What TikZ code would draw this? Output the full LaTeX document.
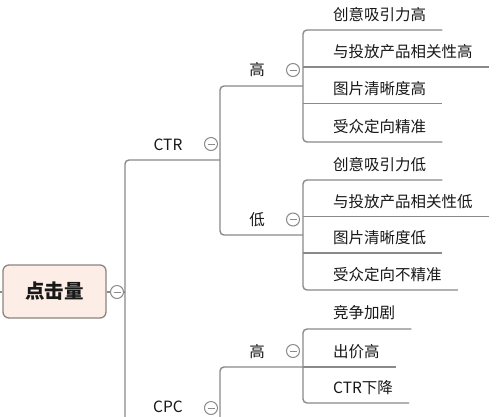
\documentclass[tikz,border=0pt]{standalone}
\usepackage{fontspec}
\newfontfamily\cjk{Noto Sans CJK SC}
\definecolor{lc}{HTML}{8A8A8A}
\definecolor{cc}{HTML}{8A8A8A}
\definecolor{tc}{HTML}{181818}
\definecolor{rootfill}{HTML}{FCEEE6}
\definecolor{rootdraw}{HTML}{8C8580}
\tikzset{
  conn/.style={draw=lc, line width=1.4pt, rounded corners=4pt},
  leaf/.style={font=\cjk\fontsize{15.5}{15.5}\selectfont, text=tc, inner sep=0pt, anchor=west},
  midlabel/.style={font=\cjk\fontsize{15.5}{15.5}\selectfont, text=tc, inner sep=0pt, anchor=center},
  rootbox/.style={draw=rootdraw, fill=rootfill, line width=1.3pt, rounded corners=6pt,
    minimum width=103pt, minimum height=53pt, inner sep=0pt,
    font=\cjk\bfseries\fontsize{19.5}{19.5}\selectfont, text=tc},
  tog/.style={circle, draw=cc, fill=white, line width=1pt, minimum size=13pt, inner sep=0pt,
    path picture={\draw[cc, line width=1pt]
      ([xshift=-3.5pt]path picture bounding box.center) -- ([xshift=3.5pt]path picture bounding box.center);}}
}
\begin{document}
\begin{tikzpicture}[x=1pt,y=-1pt]
\useasboundingbox (0,0) rectangle (500,416);
\clip (0,0) rectangle (500,416);
\fill[white] (0,0) rectangle (500,416);

% ---------- root ----------
\coordinate (inL) at (0,292);
\node[rootbox] (root) at (54.5,291.5) {点击量};
\draw[conn] (inL) -- (root.west |- inL);

% trunk coordinates
\coordinate (trTop) at (125,160);
\coordinate (trBot) at (125,422);
\coordinate (ctrEnd) at (220,160);
\coordinate (cpcEnd) at (220,422);
\node[tog] (rootT) at (117,292) {};
\draw[conn] (root.east |- rootT) -- (rootT.west);
\draw[conn] (rootT.east) -- (trTop |- rootT);
\draw[conn] (ctrEnd) -- (trTop) -- (trBot) -- (cpcEnd);

% ---------- CTR ----------
\node[midlabel] (ctr) at (168,145) {CTR};
\node[tog] (ctrT) at (211,144) {};
\coordinate (hiEnd) at (303,86);
\coordinate (loEnd) at (303,235);
\draw[conn] (hiEnd) -- (220,86) -- (220,235) -- (loEnd);

% CTR - high
\node[midlabel] (hi) at (257,70) {高};
\node[tog] (hiT) at (293,70) {};
\node[leaf] (a1) at (333,15) {创意吸引力高};
\node[leaf] (a2) at (333,52) {与投放产品相关性高};
\node[leaf] (a3) at (333,88.5) {图片清晰度高};
\node[leaf] (a4) at (333,127) {受众定向精准};
\coordinate (a1e) at ([xshift=16pt]a1.east |- 0,30);
\coordinate (a2e) at ([xshift=16pt]a2.east |- 0,67);
\coordinate (a3e) at ([xshift=16pt]a3.east |- 0,103.5);
\coordinate (a4e) at ([xshift=16pt]a4.east |- 0,142);
\draw[conn] (a1e) -- (hiEnd |- a1e) -- (hiEnd |- a4e) -- (a4e);
\draw[conn] (hiEnd |- a2e) -- (a2e);
\draw[conn] (hiEnd |- a3e) -- (a3e);

% CTR - low
\node[midlabel] (lo) at (257,219.5) {低};
\node[tog] (loT) at (293,219.5) {};
\node[leaf] (b1) at (333,165) {创意吸引力低};
\node[leaf] (b2) at (333,201.5) {与投放产品相关性低};
\node[leaf] (b3) at (333,238) {图片清晰度低};
\node[leaf] (b4) at (333,275) {受众定向不精准};
\coordinate (b1e) at ([xshift=16pt]b1.east |- 0,180);
\coordinate (b2e) at ([xshift=16pt]b2.east |- 0,216.5);
\coordinate (b3e) at ([xshift=16pt]b3.east |- 0,253);
\coordinate (b4e) at ([xshift=16pt]b4.east |- 0,290);
\draw[conn] (b1e) -- (loEnd |- b1e) -- (loEnd |- b4e) -- (b4e);
\draw[conn] (loEnd |- b2e) -- (b2e);
\draw[conn] (loEnd |- b3e) -- (b3e);

% ---------- CPC ----------
\node[midlabel] (cpc) at (168,407) {CPC};
\node[tog] (cpcT) at (211,408) {};
\coordinate (chEnd) at (303,367);
\draw[conn] (chEnd) -- (220,367) -- (220,440);

\node[midlabel] (ch) at (257,352) {高};
\node[tog] (chT) at (293,351) {};
\node[leaf] (c1) at (333,313) {竞争加剧};
\node[leaf] (c2) at (333,351.5) {出价高};
\node[leaf] (c3) at (333,388) {CTR下降};
\coordinate (c1e) at ([xshift=16pt]c1.east |- 0,329);
\coordinate (c2e) at ([xshift=16pt]c2.east |- 0,367);
\coordinate (c3e) at ([xshift=16pt]c3.east |- 0,403);
\draw[conn] (c1e) -- (chEnd |- c1e) -- (chEnd |- c3e) -- (c3e);
\draw[conn] (chEnd) -- (c2e);
\end{tikzpicture}
\end{document}
